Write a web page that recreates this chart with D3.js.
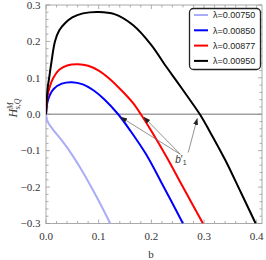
<!DOCTYPE html>
<html><head><meta charset="utf-8">
<script src="https://cdn.jsdelivr.net/npm/d3@7"></script>
<style>body{margin:0;background:#fff}svg{display:block}</style>
</head><body><svg id="c" width="266" height="260"></svg>
<script>
// ---- data ----
const seriesNames = ["λ=0.00750","λ=0.00850","λ=0.00877","λ=0.00950"];
const seriesColors = ["#a9adf7","#0000ff","#ff0000","#000000"];
const bL750 = [0,0.002,0.0044,0.0133,0.03,0.048,0.065,0.083,0.102,0.122];
const hL750 = [0,-0.015,-0.024,-0.042,-0.072,-0.108,-0.147,-0.192,-0.243,-0.3];
const bL850 = [0,0.003,0.008,0.015,0.03,0.049,0.07,0.09,0.11,0.137,0.16,0.19,0.22,0.26];
const hL850 = [0,0.035,0.055,0.07,0.084,0.088,0.082,0.066,0.042,0,-0.045,-0.11,-0.19,-0.3];
const bL877 = [0,0.003,0.007,0.014,0.025,0.04,0.061,0.08,0.1,0.121,0.145,0.165,0.18,0.2,0.23,0.26,0.298];
const hL877 = [0,0.05,0.075,0.1,0.122,0.134,0.1375,0.133,0.12,0.097,0.063,0.031,0,-0.046,-0.12,-0.2,-0.3];
const bL950 = [0,0.003,0.006,0.01,0.017,0.025,0.036,0.05,0.07,0.1,0.13,0.165,0.2,0.228,0.25,0.268,0.292,0.31,0.34,0.37,0.398];
const hL950 = [0,0.07,0.1,0.14,0.2,0.23,0.25,0.266,0.277,0.281,0.275,0.245,0.19,0.131,0.087,0.05,0,-0.045,-0.125,-0.215,-0.3];
const xTicks = [0,0.1,0.2,0.3,0.4];
const yTicks = [-0.3,-0.2,-0.1,0,0.1,0.2,0.3];
const annotTips = [[0.142,-0.008],[0.186,-0.008],[0.287,-0.012]];
const annotFrom = [[0.255,-0.11],[0.255,-0.11],[0.270,-0.105]];
const annotLabel = [0.256,-0.122];

const xs = [bL750,bL850,bL877,bL950], ys=[hL750,hL850,hL877,hL950];

const svg = d3.select("#c");
const x = d3.scaleLinear().domain([0,0.41]).range([46,262]);
const y = d3.scaleLinear().domain([-0.3,0.3]).range([223.5,5]);
const defs = svg.append("defs");
defs.append("clipPath").attr("id","clip").append("rect")
  .attr("x",46).attr("y",5).attr("width",216).attr("height",218.5);
defs.append("marker").attr("id","ah").attr("viewBox","0 0 10 10").attr("refX",9).attr("refY",5)
  .attr("markerWidth",7).attr("markerHeight",7).attr("orient","auto-start-reverse")
  .attr("markerUnits","userSpaceOnUse")
  .append("path").attr("d","M0,1.5 L10,5 L0,8.5 Z").attr("fill","#222");

// zero line
svg.append("line").attr("x1",x(0)).attr("x2",262).attr("y1",y(0)).attr("y2",y(0))
  .attr("stroke","#a0a0a0").attr("stroke-width",1.6);

// frame
svg.append("rect").attr("x",46).attr("y",5).attr("width",216).attr("height",218.5)
  .attr("fill","none").attr("stroke","#aaa").attr("stroke-width",1);

// ticks
const xMinor = d3.range(0,0.41,0.02), yMinor = d3.range(-0.3,0.301,0.02);
const tg = svg.append("g").attr("stroke","#999").attr("stroke-width",0.8);
xMinor.forEach(v=>{
  const major = Math.abs(Math.round(v*10)-v*10)<1e-6; const L = major?4:2.5;
  tg.append("line").attr("x1",x(v)).attr("x2",x(v)).attr("y1",223.5).attr("y2",223.5-L);
  tg.append("line").attr("x1",x(v)).attr("x2",x(v)).attr("y1",5).attr("y2",5+L);
});
yMinor.forEach(v=>{
  const major = Math.abs(Math.round(v*10)-v*10)<1e-6; const L = major?4:2.5;
  tg.append("line").attr("y1",y(v)).attr("y2",y(v)).attr("x1",46).attr("x2",46+L);
  tg.append("line").attr("y1",y(v)).attr("y2",y(v)).attr("x1",262).attr("x2",262-L);
});
const fmt = v => (v<0?"\u2212":"") + Math.abs(v).toFixed(1);
svg.append("g").selectAll("text").data(xTicks).join("text")
  .attr("x",d=>x(d)).attr("y",240).attr("text-anchor","middle")
  .attr("font-family","Liberation Serif").attr("font-size",11).attr("fill","#333").text(fmt);
svg.append("g").selectAll("text").data(yTicks).join("text")
  .attr("x",40.5).attr("y",d=>y(d)+3.8).attr("text-anchor","end")
  .attr("font-family","Liberation Serif").attr("font-size",11).attr("fill","#333").text(fmt);

// axis labels
svg.append("text").attr("x",151).attr("y",258).attr("text-anchor","middle")
  .attr("font-family","Liberation Serif").attr("font-size",11).attr("fill","#333").text("b");
const yl = svg.append("text").attr("transform","translate(17,108) rotate(-90)").attr("text-anchor","middle")
  .attr("font-family","Liberation Serif").attr("font-size",12).attr("fill","#333");
yl.append("tspan").attr("font-style","italic").text("H");
yl.append("tspan").attr("font-style","italic").attr("font-size",8).attr("dy",-4).text("M");
yl.append("tspan").attr("font-style","italic").attr("font-size",8).attr("dy",7).attr("dx",-7).text("s,Q");

// curves
const line = d3.line().x(d=>x(d[0])).y(d=>y(d[1])).curve(d3.curveCatmullRom.alpha(0.5));
const cg = svg.append("g").attr("clip-path","url(#clip)");
xs.forEach((bx,i)=>{
  cg.append("path").datum(bx.map((b,j)=>[b,ys[i][j]])).attr("d",line)
    .attr("fill","none").attr("stroke",seriesColors[i]).attr("stroke-width",2);
});

// annotation arrows
annotTips.forEach((t,i)=>{
  svg.append("line").attr("x1",x(annotFrom[i][0])).attr("y1",y(annotFrom[i][1]))
    .attr("x2",x(t[0])).attr("y2",y(t[1])).attr("stroke","#777").attr("stroke-width",0.8)
    .attr("marker-end","url(#ah)");
});
const al = svg.append("text").attr("x",x(annotLabel[0])).attr("y",y(annotLabel[1])+4)
  .attr("text-anchor","middle").attr("font-family","Liberation Sans").attr("font-size",10).attr("fill","#333");
al.append("tspan").attr("font-style","italic").text("b");
al.append("tspan").text("'");
al.append("tspan").attr("font-size",7).attr("dy",2.5).text("1");

// legend
const lg = svg.append("g");
lg.append("rect").attr("x",189.5).attr("y",8.5).attr("width",71).attr("height",61).attr("rx",4)
  .attr("fill","#fff").attr("stroke","#222").attr("stroke-width",1.3);
seriesNames.forEach((n,i)=>{
  const yy = 15+i*15.3;
  lg.append("line").attr("x1",194).attr("x2",208).attr("y1",yy).attr("y2",yy)
    .attr("stroke",seriesColors[i]).attr("stroke-width",2);
  lg.append("text").attr("x",213).attr("y",yy+3.2).attr("font-family","Liberation Sans")
    .attr("font-size",9).attr("fill","#222").text(n);
});
</script></body></html>
